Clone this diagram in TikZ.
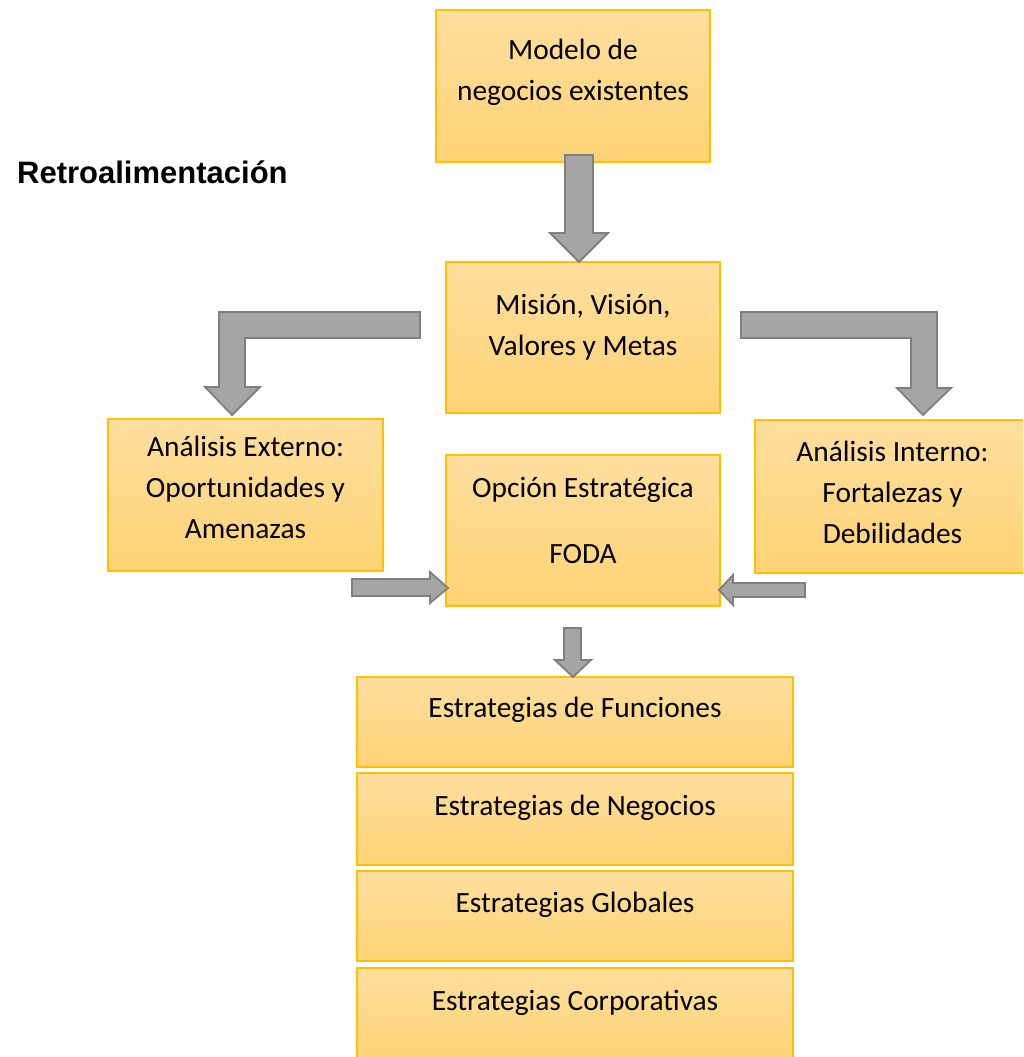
\documentclass[tikz,border=0pt]{standalone}
\usepackage{fontspec}
\setmainfont{Carlito}
\newfontfamily\headfont{Liberation Sans}
\definecolor{boxtop}{HTML}{FFDF9F}
\definecolor{boxbot}{HTML}{FFD375}
\definecolor{boxline}{HTML}{FFC000}
\definecolor{arrfill}{HTML}{A5A5A5}
\definecolor{arrline}{HTML}{7F7F7F}
\tikzset{
  box/.style={rectangle, inner sep=0pt, top color=boxtop, bottom color=boxbot,
    draw=boxline, line width=1.5pt},
  txt/.style={anchor=base, align=center, inner sep=0pt,
    font=\fontsize{29.4}{41}\selectfont},
  blockarrow/.style={fill=arrfill, draw=arrline, line width=1.8pt, line join=miter},
}
\begin{document}
\begin{tikzpicture}[x=1pt,y=-1pt]
\useasboundingbox (0,0) rectangle (1023,1057);
\fill[white] (0,0) rectangle (1023,1057);
\clip (0,0) rectangle (1023,1057);

% boxes
\node[box, minimum width=274pt, minimum height=152pt] (model) at (573,86) {};
\node[box, minimum width=274pt, minimum height=151pt] (mision) at (583,337.5) {};
\node[box, minimum width=275pt, minimum height=152pt] (externo) at (245.5,495) {};
\node[box, minimum width=274pt, minimum height=151pt] (foda) at (583,530.5) {};
\node[box, minimum width=275pt, minimum height=153pt] (interno) at (892.5,496.5) {};
\node[box, minimum width=436pt, minimum height=90pt] (funciones) at (575,722) {};
\node[box, minimum width=436pt, minimum height=92pt] (negocios) at (575,819) {};
\node[box, minimum width=436pt, minimum height=90pt] (globales) at (575,916) {};
\node[box, minimum width=436pt, minimum height=92pt] (corporativas) at (575,1014) {};

% texts (anchored at the baseline of their last line)
\node[txt] at (573,100) {Modelo de\\negocios existentes};
\node[txt] at (583,355) {Misión, Visión,\\Valores y Metas};
\node[txt] at (245.5,538) {Análisis Externo:\\Oportunidades y\\Amenazas};
\node[txt] at (583,563) {Opción Estratégica\\[25pt]FODA};
\node[txt] at (892.5,543) {Análisis Interno:\\Fortalezas y\\Debilidades};
\node[txt] at (575,717) {Estrategias de Funciones};
\node[txt] at (575,815) {Estrategias de Negocios};
\node[txt] at (575,912) {Estrategias Globales};
\node[txt] at (575,1010) {Estrategias Corporativas};

\node[anchor=base west, inner sep=0pt, font=\headfont\bfseries\fontsize{31}{36}\selectfont]
  (retro) at (17,183) {Retroalimentación};

% block arrows
\draw[blockarrow] (565,155) -- (593,155) -- (593,233) -- (608,233) -- (579,262)
  -- (550,233) -- (565,233) -- cycle;
\draw[blockarrow] (420,312) -- (420,338) -- (245,338) -- (245,387) -- (260,387)
  -- (232,415) -- (205,387) -- (219,387) -- (219,312) -- cycle;
\draw[blockarrow] (741,312) -- (937,312) -- (937,388) -- (951,388) -- (923,415)
  -- (897,388) -- (911,388) -- (911,338) -- (741,338) -- cycle;
\draw[blockarrow] (352,579) -- (430,579) -- (430,572) -- (448,588) -- (430,603)
  -- (430,596) -- (352,596) -- cycle;
\draw[blockarrow] (805,583) -- (733,583) -- (733,575) -- (719,590) -- (733,605)
  -- (733,597) -- (805,597) -- cycle;
\draw[blockarrow] (564,628) -- (581,628) -- (581,660) -- (591,660) -- (573,677)
  -- (555,660) -- (564,660) -- cycle;
\end{tikzpicture}
\end{document}
